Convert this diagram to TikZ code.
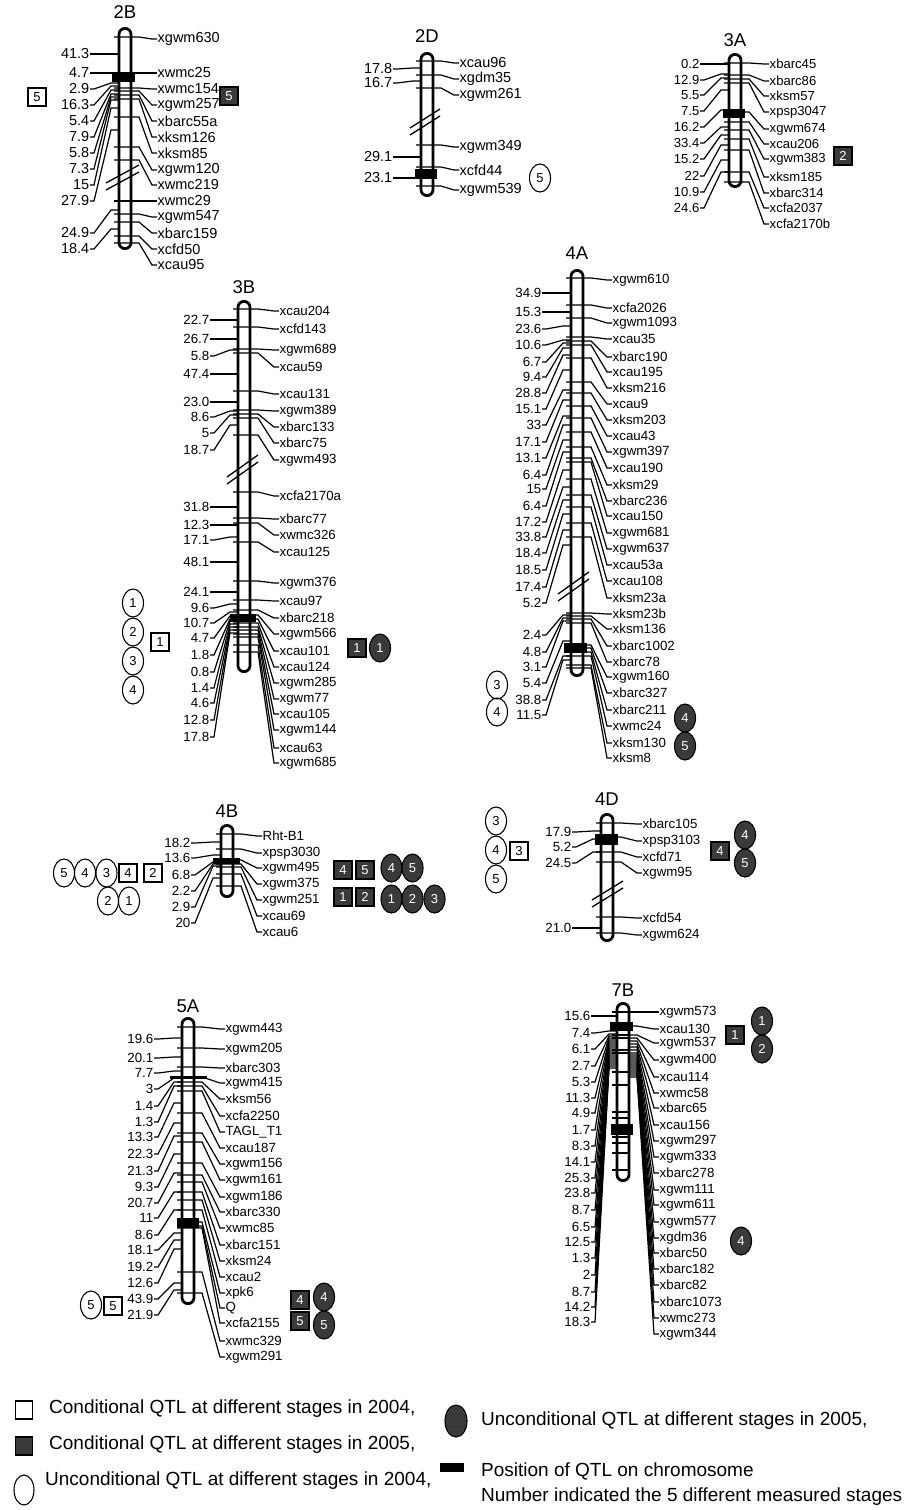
\documentclass[tikz,border=0pt]{standalone}
\usepackage{fontspec}
\setmainfont{Liberation Sans}
\usetikzlibrary{shapes.geometric}
\definecolor{dk}{HTML}{3A3A3A}
\newcommand\chr[5]{%
  \draw[line width=2.8, fill=white, rounded corners=5.9] (#1-6,#2+1.4) rectangle (#1+6,#3-1.4);
  \node[ttl] (t#4) at (#1,#5) {#4};}
\newcommand\mk[4]{%
  \node[lab, anchor=west] (#1) at (\lx-1,#3) {#4};
  \draw[con] (\cx-11,#2) -- (\cx+14,#2) -- (\lx-6,#3) -- (#1.west);}
\newcommand\mkc[4]{%
  \node[lab, anchor=west] (#1) at (\lx-1,#3) {#4};
  \draw[con] (\cx+6,#2) -- (\cx+14,#2) -- (\lx-6,#3) -- (#1.west);}
\newcommand\dn[4]{%
  \node[lab, anchor=east] (#1) at (\nx+1,#3) {#4};
  \draw[con] (#1.east) -- (\nx+5,#3) -- (\cx-14,#2) -- (\cx-7,#2);}
\newcommand\brk[4]{%
  \draw[line width=1.3] (#1,#2) -- (#3,#4);
  \draw[line width=1.3] (#1,#2-7) -- (#3,#4-7);}
\begin{document}
\begin{tikzpicture}[x=1pt,y=-1pt,
  lab/.style={font=\fontsize{\fs}{\fs}\selectfont, inner sep=0.5pt},
  ttl/.style={font=\fontsize{18.5}{18.5}\selectfont, inner sep=0pt},
  con/.style={line width=1.2},
  symf/.style={font=\fontsize{13}{13}\selectfont},
  osq/.style={draw, line width=1.1, minimum width=18, minimum height=18, inner sep=0pt, symf},
  dsq/.style={osq, fill=dk, text=white},
  oel/.style={ellipse, draw, line width=1.1, minimum width=21, minimum height=28, inner sep=0pt, symf},
  del/.style={oel, fill=dk, text=white},
  legt/.style={font=\fontsize{19}{19}\selectfont, inner sep=0pt, anchor=west}]
\fill[white] (0,0) rectangle (909,1510);
\useasboundingbox (0,0) rectangle (909,1510);

% ---------------- 2B
\def\cx{125}\def\lx{158}\def\nx{89}\def\fs{14.5}
\chr{125}{27}{250}{2B}{12}
\foreach \ta/\la/\na [count=\i] in {37/39/xgwm630, 73/73/xwmc25, 88/89/xwmc154, 91/105/xgwm257, 95/121/xbarc55a, 99/137/xksm126, 117/153/xksm85, 147/170/xgwm120, 160/185/xwmc219, 201/201/xwmc29, 214/217/xgwm547, 222/233/xbarc159, 236/249/xcfd50, 243/265/xcau95}{\mk{bBm\i}{\ta}{\la}{\na}}
\foreach \ta/\la/\na [count=\i] in {54/54/41.3, 73/73/4.7, 83/89/2.9, 86/105/16.3, 90/121/5.4, 94/137/7.9, 97/153/5.8, 100/169/7.3, 108/185/15, 130/201/27.9, 210/233/24.9, 229/249/18.4}{\dn{bBn\i}{\ta}{\la}{\na}}
\brk{106}{190}{139}{172}
\fill (112,73) rectangle (135,82);
\node[osq] (bBs1) at (37,97) {5};
\node[dsq] (bBs2) at (229,96) {5};

% ---------------- 2D
\def\cx{427}\def\lx{460}\def\nx{392}\def\fs{14.5}
\chr{427}{52}{197}{2D}{36}
\foreach \ta/\la/\na [count=\i] in {61/63/xcau96, 75/79/xgdm35, 88/95/xgwm261, 145/147/xgwm349, 167/170/xcfd44, 186/190/xgwm539}{\mk{dDm\i}{\ta}{\la}{\na}}
\foreach \ta/\la/\na [count=\i] in {68/69/17.8, 81/83/16.7, 157/157/29.1, 178/178/23.1}{\dn{dDn\i}{\ta}{\la}{\na}}
\brk{410}{135}{440}{116}
\fill (415,169) rectangle (437,179);
\node[oel] (dDs1) at (540,178) {5};

% ---------------- 3A
\def\cx{735}\def\lx{770}\def\nx{699}\def\fs{13.1}
\chr{735}{53}{188}{3A}{40}
\foreach \ta/\la/\na [count=\i] in {63/64/xbarc45, 75/81/xbarc86, 79/96/xksm57, 83/112/xpsp3047, 112/129/xgwm674, 122/144/xcau206, 130/159/xgwm383, 139/177/xksm185, 150/193/xbarc314, 172/208/xcfa2037, 182/224/xcfa2170b}{\mk{cAm\i}{\ta}{\la}{\na}}
\foreach \ta/\la/\na [count=\i] in {64/64/0.2, 74/80/12.9, 78/95/5.5, 90/111/7.5, 110/127/16.2, 127/143/33.4, 135/159/15.2, 145/176/22, 160/192/10.9, 172/208/24.6}{\dn{cAn\i}{\ta}{\la}{\na}}
\fill (723,109) rectangle (745,118);
\node[dsq] (cAs1) at (843,156) {2};

% ---------------- 3B
\def\cx{244}\def\lx{280}\def\nx{209}\def\fs{13.3}
\chr{244}{300}{673}{3B}{287}
\foreach \ta/\la/\na [count=\i] in {309/311/xcau204, 327/329/xcfd143, 349/350/xgwm689, 353/367/xcau59, 391/394/xcau131, 410/411/xgwm389, 414/427/xbarc133, 418/443/xbarc75, 435/460/xgwm493, 492/496/xcfa2170a, 518/519/xbarc77, 523/535/xwmc326, 542/552/xcau125, 581/583/xgwm376, 600/601/xcau97, 610/618/xbarc218, 615/634/xgwm566, 619/651/xcau101, 623/667/xcau124, 627/683/xgwm285, 630/699/xgwm77, 634/714/xcau105, 637/730/xgwm144, 645/748/xcau63, 652/763/xgwm685}{\mk{cBm\i}{\ta}{\la}{\na}}
\foreach \ta/\la/\na [count=\i] in {320/320/22.7, 339/339/26.7, 350/356/5.8, 374/374/47.4, 402/402/23.0, 411/417/8.6, 415/433/5, 425/450/18.7, 507/507/31.8, 525/525/12.3, 537/540/17.1, 562/562/48.1, 592/592/24.1, 604/608/9.6, 612/623/10.7, 616/638/4.7, 619/655/1.8, 621/672/0.8, 624/688/1.4, 627/703/4.6, 630/720/12.8, 633/737/17.8}{\dn{cBn\i}{\ta}{\la}{\na}}
\brk{227}{484}{258}{462}
\fill (230,614) rectangle (256,622);
\node[oel] (cBs1) at (133,603) {1};
\node[oel] (cBs2) at (133,632) {2};
\node[oel] (cBs3) at (133,661) {3};
\node[oel] (cBs4) at (133,690) {4};
\node[osq] (cBs5) at (160,642) {1};
\node[dsq] (cBs6) at (357,648) {1};
\node[del] (cBs7) at (380,648) {1};

% ---------------- 4A
\def\cx{577}\def\lx{613}\def\nx{541}\def\fs{13.3}
\chr{577}{269}{677}{4A}{253}
\foreach \ta/\la/\na [count=\i] in {278/280/xgwm610, 305/308/xcfa2026, 318/323/xgwm1093, 337/339/xcau35, 341/357/xbarc190, 345/372/xcau195, 358/388/xksm216, 382/404/xcau9, 393/420/xksm203, 406/436/xcau43, 418/452/xgwm397, 432/468/xcau190, 447/485/xksm29, 458/501/xbarc236, 462/516/xcau150, 479/533/xgwm681, 495/549/xgwm637, 507/565/xcau53a, 523/581/xcau108, 537/598/xksm23a, 613/614/xksm23b, 616/629/xksm136, 619/646/xbarc1002, 623/662/xbarc78, 645/677/xgwm160, 648/693/xbarc327, 652/710/xbarc211, 656/726/xwmc24, 665/743/xksm130, 668/758/xksm8}{\mk{dAm\i}{\ta}{\la}{\na}}
\foreach \ta/\la/\na [count=\i] in {293/293/34.9, 312/312/15.3, 326/329/23.6, 340/345/10.6, 343/362/6.7, 348/377/9.4, 355/393/28.8, 370/409/15.1, 390/425/33, 400/442/17.1, 416/458/13.1, 425/475/6.4, 440/489/15, 452/506/6.4, 470/522/17.2, 487/537/33.8, 500/553/18.4, 514/570/18.5, 530/587/17.4, 545/603/5.2, 615/635/2.4, 618/652/4.8, 621/667/3.1, 641/683/5.4, 656/700/38.8, 660/715/11.5}{\dn{dAn\i}{\ta}{\la}{\na}}
\brk{558}{601}{589}{579}
\fill (564,643) rectangle (587,653);
\node[oel] (dAs1) at (497,685) {3};
\node[oel] (dAs2) at (497,712) {4};
\node[del] (dAs3) at (685,718) {4};
\node[del] (dAs4) at (685,746) {5};

% ---------------- 4B
\def\cx{227}\def\lx{263}\def\nx{190}\def\fs{13.3}
\chr{227}{824}{898}{4B}{811}
\foreach \ta/\la/\na [count=\i] in {834/836/Rht-B1, 849/853/xpsp3030, 860/868/xgwm495, 864/884/xgwm375, 867/900/xgwm251, 874/916/xcau69, 886/932/xcau6}{\mk{dBm\i}{\ta}{\la}{\na}}
\foreach \ta/\la/\na [count=\i] in {842/843/18.2, 855/858/13.6, 862/875/6.8, 864/891/2.2, 866/907/2.9, 878/923/20}{\dn{dBn\i}{\ta}{\la}{\na}}
\fill (213,858) rectangle (240,864);
\node[oel] (dBs1) at (64,873) {5};
\node[oel] (dBs2) at (85,873) {4};
\node[oel] (dBs3) at (106.5,873) {3};
\node[osq] (dBs4) at (128,873) {4};
\node[osq] (dBs5) at (153,873) {2};
\node[oel] (dBs6) at (108,901) {2};
\node[oel] (dBs7) at (129,901) {1};
\node[dsq] (dBs8) at (343,870) {4};
\node[dsq] (dBs9) at (365,870) {5};
\node[del] (dBs10) at (391.5,868) {4};
\node[del] (dBs11) at (412.5,868) {5};
\node[dsq] (dBs12) at (343,897) {1};
\node[dsq] (dBs13) at (365,897) {2};
\node[del] (dBs14) at (391.5,899) {1};
\node[del] (dBs15) at (412.5,899) {2};
\node[del] (dBs16) at (434.5,899) {3};

% ---------------- 4D
\def\cx{607}\def\lx{643}\def\nx{571}\def\fs{13.3}
\chr{607}{813}{942}{4D}{799}
\foreach \ta/\la/\na [count=\i] in {823/824/xbarc105, 837/841/xpsp3103, 852/857/xcfd71, 862/873/xgwm95, 917/918/xcfd54, 933/935/xgwm624}{\mk{dDDm\i}{\ta}{\la}{\na}}
\foreach \ta/\la/\na [count=\i] in {831/832/17.9, 839/847/5.2, 852/863/24.5, 928/928/21.0}{\dn{dDDn\i}{\ta}{\la}{\na}}
\brk{592}{907}{623}{888}
\fill (595,834) rectangle (618,845);
\node[oel] (dDDs1) at (496,821) {3};
\node[oel] (dDDs2) at (496,850) {4};
\node[oel] (dDDs3) at (496,879) {5};
\node[osq] (dDDs4) at (519,851) {3};
\node[dsq] (dDDs5) at (720,851) {4};
\node[del] (dDDs6) at (745,835) {4};
\node[del] (dDDs7) at (745,863) {5};

% ---------------- 5A
\def\cx{188}\def\lx{226}\def\nx{153}\def\fs{13.3}
\chr{188}{1017}{1305}{5A}{1006}
\foreach \ta/\la/\na [count=\i] in {1027/1029/xgwm443, 1048/1049/xgwm205, 1067/1068/xbarc303, 1077/1083/xgwm415, 1082/1099/xksm56, 1086/1116/xcfa2250, 1091/1132/TAGL\_T1, 1113/1148/xcau187, 1133/1164/xgwm156, 1142/1180/xgwm161, 1163/1197/xgwm186, 1175/1212/xbarc330, 1182/1228/xwmc85, 1192/1245/xbarc151, 1200/1261/xksm24, 1210/1277/xcau2, 1222/1293/xpk6, 1226/1308/Q, 1228/1323/xcfa2155, 1272/1341/xwmc329, 1293/1357/xgwm291}{\mk{eAm\i}{\ta}{\la}{\na}}
\foreach \ta/\la/\na [count=\i] in {1038/1039/19.6, 1057/1058/20.1, 1071/1073/7.7, 1078/1089/3, 1082/1106/1.4, 1086/1122/1.3, 1103/1137/13.3, 1123/1154/22.3, 1136/1171/21.3, 1154/1187/9.3, 1173/1203/20.7, 1192/1218/11, 1210/1235/8.6, 1233/1250/18.1, 1240/1267/19.2, 1249/1283/12.6, 1283/1299/43.9, 1290/1315/21.9}{\dn{eAn\i}{\ta}{\la}{\na}}
\fill (170,1075.5) rectangle (207,1079);
\fill (177,1218) rectangle (199,1228);
\node[oel] (eAs1) at (91,1305) {5};
\node[osq] (eAs2) at (113,1306) {5};
\node[dsq] (eAs3) at (300,1300) {4};
\node[dsq] (eAs4) at (300,1321) {5};
\node[del] (eAs5) at (324,1297) {4};
\node[del] (eAs6) at (324,1325) {5};

% ---------------- 7B
\def\cx{623}\def\lx{660}\def\nx{590}\def\fs{13.3}
\chr{623}{1002}{1182}{7B}{990}
\foreach \yy in {1012,1025,1035,1038,1050,1053,1072,1085,1112,1118,1128,1137,1143,1153,1170}{\draw[con] (\cx-11,\yy) -- (\cx+7,\yy);}
\foreach \ta/\la/\na [count=\i] in {1012/1012/xgwm573, 1026/1029/xcau130, 1035/1043/xgwm537, 1038/1060/xgwm400, 1041/1077/xcau114, 1044/1093/xwmc58, 1047/1108/xbarc65, 1050/1125/xcau156, 1053/1141/xgwm297, 1055/1157/xgwm333, 1057/1173/xbarc278, 1059/1190/xgwm111, 1061/1205/xgwm611, 1063/1222/xgwm577, 1065/1238/xgdm36, 1067/1253/xbarc50, 1069/1269/xbarc182, 1071/1285/xbarc82, 1073/1302/xbarc1073, 1075/1318/xwmc273, 1077/1334/xgwm344}{\mkc{gBm\i}{\ta}{\la}{\na}}
\foreach \ta/\la/\na [count=\i] in {1016/1016/15.6, 1031/1033/7.4, 1034/1049/6.1, 1036/1066/2.7, 1038/1082/5.3, 1040/1098/11.3, 1042/1113/4.9, 1044/1130/1.7, 1046/1146/8.3, 1048/1162/14.1, 1050/1178/25.3, 1052/1193/23.8, 1054/1210/8.7, 1056/1227/6.5, 1058/1242/12.5, 1060/1258/1.3, 1062/1275/2, 1064/1292/8.7, 1066/1307/14.2, 1068/1322/18.3}{\dn{gBn\i}{\ta}{\la}{\na}}
\fill (610,1022) rectangle (633,1031);
\fill (611,1124) rectangle (633,1135);
\node[dsq] (gBs1) at (735,1035) {1};
\node[del] (gBs2) at (762,1021) {1};
\node[del] (gBs3) at (762,1049) {2};
\node[del] (gBs4) at (741,1241) {4};

% ---------------- legend
\node[osq, minimum width=17, minimum height=18] (lg1) at (24,1410) {};
\node[legt] (lt1) at (49,1409) {Conditional QTL at different stages in 2004,};
\node[dsq, minimum width=17, minimum height=18] (lg2) at (24,1446) {};
\node[legt] (lt2) at (49,1445) {Conditional QTL at different stages in 2005,};
\node[oel, minimum width=20, minimum height=30] (lg3) at (24,1490) {};
\node[legt] (lt3) at (45,1481) {Unconditional QTL at different stages in 2004,};
\node[del, minimum width=22, minimum height=32] (lg4) at (456,1421) {};
\node[legt] (lt4) at (481,1421) {Unconditional QTL at different stages in 2005,};
\fill (440,1463) rectangle (464,1472);
\node[legt] (lt5) at (481,1471) {Position of QTL on chromosome};
\node[legt] (lt6) at (481,1497) {Number indicated the 5 different measured stages};
\end{tikzpicture}
\end{document}
